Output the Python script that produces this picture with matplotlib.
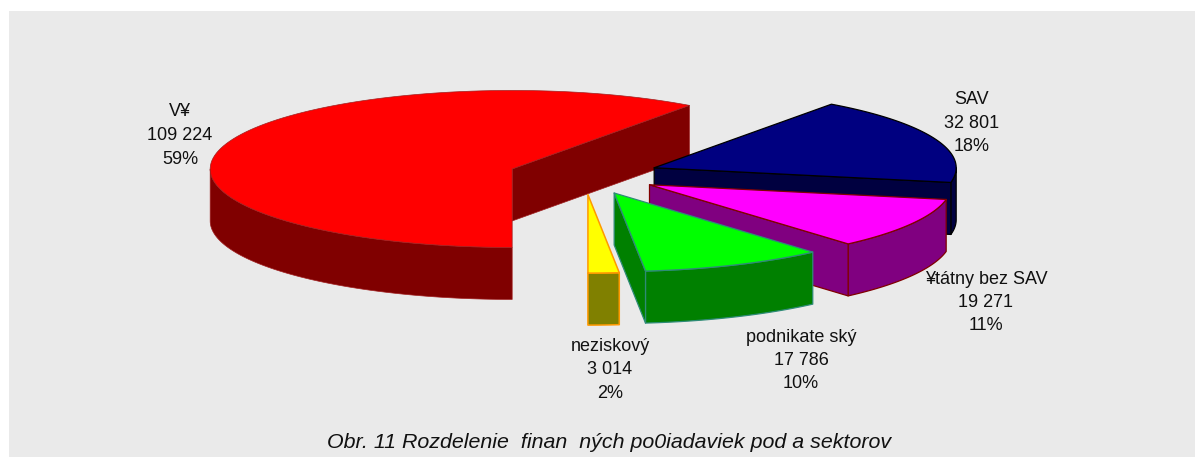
import numpy as np
import matplotlib
matplotlib.use("Agg")
import matplotlib.pyplot as plt
from matplotlib.patches import Polygon, Rectangle

plt.rcParams['font.family'] = 'Liberation Sans'

# chart data
sectors = ["V¥", "SAV", "¥tátny bez SAV", "podnikate ský", "neziskový"]
values = [109224, 32801, 19271, 17786, 3014]
value_labels = ["109 224", "32 801", "19 271", "17 786", "3 014"]
percent_labels = ["59%", "18%", "11%", "10%", "2%"]
title = "Obr. 11 Rozdelenie  finan  ných po0iadaviek pod a sektorov"

top_colors = ["#FF0000", "#000080", "#FF00FF", "#00FF00", "#FFFF00"]
side_colors = ["#800000", "#000040", "#800080", "#008000", "#808000"]
edge_colors = ["#A02020", "#000000", "#800000", "#2E8B77", "#FF9900"]
edge_widths = [0.5, 0.9, 0.9, 0.9, 1.1]
label_pos = [(180, 135.5), (972, 123), (986, 302.5), (801, 360.5), (610, 370)]

# pie geometry in pixels
cx, cy = 584, 175
rx, ry = 302, 78.5
explode = 75.5
depth = 52
start_angle = 270

W, H = 1195, 457
fig = plt.figure(figsize=(W / 100, H / 100), dpi=100, facecolor="white")
ax = fig.add_axes([0, 0, 1, 1])
ax.set_xlim(0, W)
ax.set_ylim(H, 0)
ax.axis("off")

# grey panel runs off the right and bottom edges
ax.add_patch(Rectangle((9, 11), W - 9, H - 11, facecolor="#EAEAEA", edgecolor="none", zorder=0))


def arc_points(x0, y0, a1, a2, n=120):
    t = np.radians(np.linspace(a1, a2, n))
    return np.column_stack([x0 + rx * np.cos(t), y0 - ry * np.sin(t)])


def draw_slice(i, a1, a2, z):
    mid = np.radians((a1 + a2) / 2)
    x0 = cx + explode * np.cos(mid)
    y0 = cy - explode * ry / rx * np.sin(mid)
    style = dict(edgecolor=edge_colors[i], linewidth=edge_widths[i], joinstyle="round", zorder=z)
    down = np.array([0, depth])

    # outer wall, only the part facing the viewer (180..360 degrees)
    for shift in (-360, 0):
        lo, hi = max(a1, 180 + shift), min(a2, 360 + shift)
        if hi > lo:
            rim = arc_points(x0, y0, lo, hi)
            ax.add_patch(Polygon(np.vstack([rim, rim[::-1] + down]), facecolor=side_colors[i], **style))

    # cut faces
    apex = np.array([x0, y0])
    for a, visible in ((a1, np.cos(np.radians(a1)) > 0.01), (a2, np.cos(np.radians(a2)) < -0.01)):
        if visible:
            p = arc_points(x0, y0, a, a, 1)[0]
            ax.add_patch(Polygon([apex, p, p + down, apex + down], facecolor=side_colors[i], **style))

    ax.add_patch(Polygon(np.vstack([apex, arc_points(x0, y0, a1, a2)]), facecolor=top_colors[i], **style))


# slices go clockwise from the start angle
sweeps = np.array(values) / sum(values) * 360
angle = start_angle
for i, sweep in enumerate(sweeps):
    draw_slice(i, angle - sweep, angle, 2 + i)
    angle -= sweep

for i in range(len(sectors)):
    x, y = label_pos[i]
    ax.text(x, y, f"{sectors[i]}\n{value_labels[i]}\n{percent_labels[i]}", ha="center", va="center",
            fontsize=13, color="#111111", linespacing=1.5, zorder=10)

ax.text(609, 442, title, ha="center", va="center", fontsize=15.4, style="italic", color="#111111", zorder=10)

fig.savefig("out.png", dpi=100)
plt.close(fig)
